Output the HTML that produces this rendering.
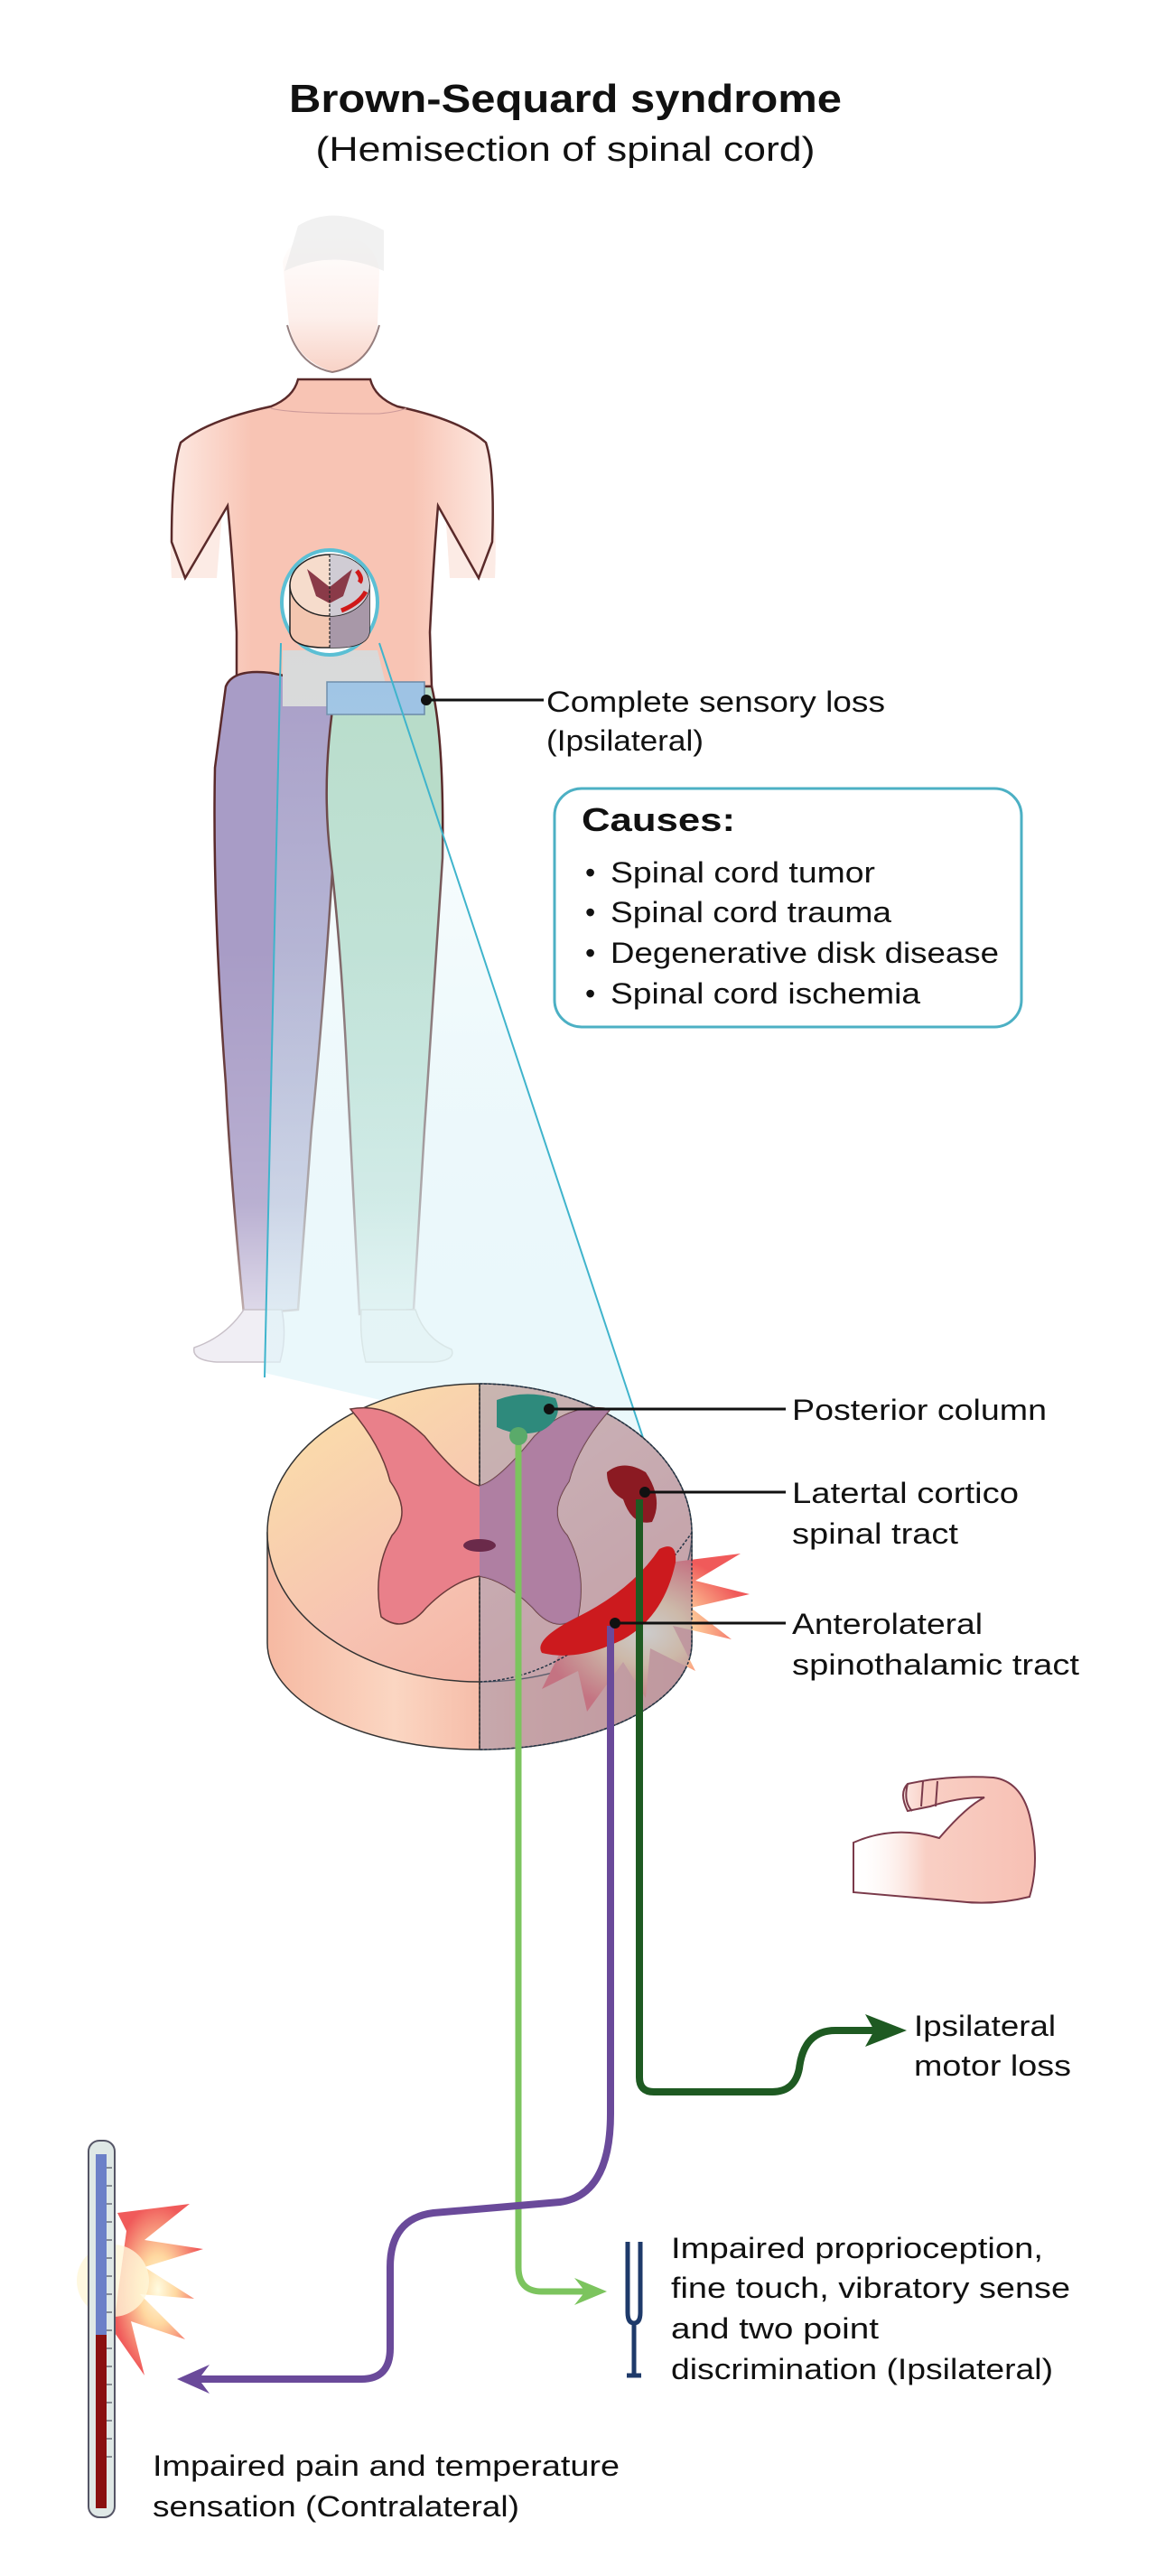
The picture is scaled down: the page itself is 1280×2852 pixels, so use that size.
<!DOCTYPE html>
<html><head><meta charset="utf-8"><style>
html,body{margin:0;padding:0;background:#fff}
svg{display:block}
text{font-family:"Liberation Sans",Arial,sans-serif;fill:#111}
</style></head><body>
<svg width="1280" height="2852" viewBox="0 0 1280 2852" xmlns="http://www.w3.org/2000/svg">
<defs>
<linearGradient id="skin" x1="0" y1="0" x2="1" y2="0">
<stop offset="0" stop-color="#fde9e2"/><stop offset=".25" stop-color="#f8c4b4"/><stop offset=".75" stop-color="#f8c4b4"/><stop offset="1" stop-color="#fde9e2"/></linearGradient>
<linearGradient id="headg" x1="0" y1="0" x2="0" y2="1">
<stop offset="0" stop-color="#fff"/><stop offset=".6" stop-color="#fdf0ec"/><stop offset="1" stop-color="#f8d2c6"/></linearGradient>
<linearGradient id="legfade" x1="0" y1="0" x2="0" y2="1">
<stop offset="0" stop-color="#fff" stop-opacity="0"/><stop offset=".6" stop-color="#fff" stop-opacity=".2"/><stop offset="1" stop-color="#fff" stop-opacity=".85"/></linearGradient>
<linearGradient id="cone" x1="0" y1="0" x2="0" y2="1">
<stop offset="0" stop-color="#d4f0f6" stop-opacity="0"/><stop offset=".5" stop-color="#d4f0f6" stop-opacity=".4"/><stop offset="1" stop-color="#e6f6fa" stop-opacity=".8"/></linearGradient>
<linearGradient id="cordtop" x1="0" y1="0" x2="1" y2="1">
<stop offset="0" stop-color="#fbe3a8"/><stop offset=".5" stop-color="#f7c3b2"/><stop offset="1" stop-color="#f2a89a"/></linearGradient>
<linearGradient id="cordside" x1="0" y1="0" x2="1" y2="0">
<stop offset="0" stop-color="#f6b9a2"/><stop offset=".3" stop-color="#fbd6c2"/><stop offset=".6" stop-color="#f3b09c"/><stop offset="1" stop-color="#e89c8e"/></linearGradient>
<radialGradient id="burst" cx=".5" cy=".5" r=".5">
<stop offset="0" stop-color="#fffbe0"/><stop offset=".4" stop-color="#ffd8a0"/><stop offset="1" stop-color="#f05a5a"/></radialGradient>
<linearGradient id="arm" x1="0" y1="0" x2="1" y2="0">
<stop offset="0" stop-color="#fff" stop-opacity="0"/><stop offset=".4" stop-color="#f9cfc4"/><stop offset="1" stop-color="#f7c0b4"/></linearGradient>
</defs>

<text x="626" y="124" font-size="44" font-weight="bold" text-anchor="middle" textLength="612" lengthAdjust="spacingAndGlyphs">Brown-Sequard syndrome</text>
<text x="626" y="178" font-size="38" text-anchor="middle" textLength="553" lengthAdjust="spacingAndGlyphs">(Hemisection of spinal cord)</text>

<path d="M200 490 Q185 560 190 640 L240 640 L250 520 Z" fill="#fbe6df" opacity=".8"/>
<path d="M535 490 Q552 560 548 640 L498 640 L490 520 Z" fill="#fbe6df" opacity=".8"/>
<path d="M330 420 Q325 440 300 450 Q230 465 200 490 Q190 520 190 600 L205 640 L252 560 Q258 620 262 700 L262 760 L478 760 L476 700 Q480 620 485 560 L530 640 L545 600 Q548 520 538 490 Q510 465 440 450 Q415 440 410 420 Z" fill="url(#skin)" stroke="#5a2a2a" stroke-width="2.5"/>
<path d="M313 290 Q320 260 365 258 Q415 260 420 300 L418 360 Q412 400 370 412 Q328 400 320 360 Z" fill="url(#headg)"/>
<path d="M318 360 Q330 405 368 412 Q408 405 420 360" fill="none" stroke="#6a4a4a" stroke-width="2" opacity=".7"/>
<path d="M330 250 Q370 225 425 255 L425 300 Q370 275 315 300 Z" fill="#e8e8e8" opacity=".6"/>
<path d="M300 452 Q320 458 420 458 Q440 456 450 452" fill="none" stroke="#c99" stroke-width="1"/>

<path d="M250 760 Q258 740 300 745 L372 760 Q380 800 372 900 Q360 1100 345 1250 Q335 1380 330 1450 L270 1455 Q255 1300 250 1200 Q235 1000 238 850 Z" fill="#a89cc6" stroke="#5a2a2a" stroke-width="2.5"/>
<path d="M372 760 L478 760 Q492 820 490 950 Q478 1120 470 1250 Q462 1380 458 1450 L398 1455 Q390 1300 385 1200 Q378 1050 366 950 Q355 860 372 760 Z" fill="#b8dcc9" stroke="#5a2a2a" stroke-width="2.5"/>
<rect x="230" y="1050" width="280" height="470" fill="url(#legfade)"/>
<path d="M270 1450 Q250 1480 215 1492 Q212 1506 240 1508 L310 1508 Q318 1480 312 1450 Z" fill="#f0eef4" stroke="#c8c0c8" stroke-width="1.5"/>
<path d="M400 1450 Q398 1480 405 1508 L480 1508 Q505 1506 500 1494 Q470 1482 460 1450 Z" fill="#eef4f0" stroke="#c8c8c0" stroke-width="1.5"/>

<path d="M313 720 L418 720 L433 782 L313 782 Z" fill="#d9d9d9"/>
<rect x="362" y="755" width="108" height="36" fill="#9ec3e4" stroke="#6a8aa8" stroke-width="1.5"/>

<path d="M311 712 L420 712 L720 1620 L293 1520 Z" fill="url(#cone)"/>
<line x1="311" y1="712" x2="293" y2="1525" stroke="#3fb4cc" stroke-width="2"/>
<line x1="420" y1="712" x2="722" y2="1622" stroke="#3fb4cc" stroke-width="2"/>

<ellipse cx="365" cy="667" rx="53" ry="58" fill="#fff" stroke="#5bbfd4" stroke-width="4"/>
<path d="M321 648 L321 700 Q323 718 365 717 Q407 718 409 700 L409 648 Z" fill="#f3c6b0" stroke="#222" stroke-width="1.5"/>
<path d="M365 648 L409 648 L409 700 Q407 718 365 717 Z" fill="#a898a8"/>
<ellipse cx="365" cy="648" rx="44" ry="34" fill="#f6dccc" stroke="#222" stroke-width="1.5"/>
<path d="M365 614 A44 34 0 0 1 365 682 Z" fill="#d0ccd4"/>
<path d="M340 630 L365 650 L390 630 L380 660 L365 668 L350 660 Z" fill="#8a3a48"/>
<path d="M395 632 Q402 640 398 645" stroke="#d01818" stroke-width="5" fill="none"/>
<path d="M378 676 Q398 668 405 655" stroke="#d01818" stroke-width="5" fill="none"/>
<line x1="365" y1="614" x2="365" y2="717" stroke="#222" stroke-width="1.2" stroke-dasharray="3 2"/>

<circle cx="472" cy="775" r="6" fill="#111"/>
<line x1="472" y1="775" x2="602" y2="775" stroke="#111" stroke-width="3"/>
<text x="605" y="788" font-size="32" textLength="375" lengthAdjust="spacingAndGlyphs">Complete sensory loss</text>
<text x="605" y="831" font-size="32" textLength="174" lengthAdjust="spacingAndGlyphs">(Ipsilateral)</text>

<rect x="614" y="873" width="517" height="264" rx="30" fill="#fff" stroke="#4cb0c4" stroke-width="3"/>
<text x="644" y="920" font-size="36" font-weight="bold" textLength="170" lengthAdjust="spacingAndGlyphs">Causes:</text>
<g font-size="32">
<text x="648" y="977">•</text><text x="676" y="977" textLength="293" lengthAdjust="spacingAndGlyphs">Spinal cord tumor</text>
<text x="648" y="1021">•</text><text x="676" y="1021" textLength="311" lengthAdjust="spacingAndGlyphs">Spinal cord trauma</text>
<text x="648" y="1066">•</text><text x="676" y="1066" textLength="430" lengthAdjust="spacingAndGlyphs">Degenerative disk disease</text>
<text x="648" y="1111">•</text><text x="676" y="1111" textLength="343" lengthAdjust="spacingAndGlyphs">Spinal cord ischemia</text>
</g>

<path d="M296 1697 L296 1819 A235 118 0 0 0 766 1819 L766 1697 Z" fill="url(#cordside)" stroke="#333" stroke-width="1.5"/>
<ellipse cx="531" cy="1697" rx="235" ry="165" fill="url(#cordtop)" stroke="#333" stroke-width="1.5"/>
<path d="M740 1730 L820 1720 L770 1750 L830 1765 L765 1780 L810 1815 L745 1800 L770 1850 L720 1825 L715 1880 L690 1840 L650 1895 L640 1850 L600 1870 L620 1830 Z" fill="url(#burst)"/>
<path d="M531 1532 A235 165 0 0 1 766 1697 L766 1819 A235 118 0 0 1 531 1937 Z" fill="#8e93b4" opacity=".45"/>
<path d="M531 1532 A235 165 0 0 1 766 1697 L766 1819 A235 118 0 0 1 531 1937 Z" fill="none" stroke="#234" stroke-width="1.5" stroke-dasharray="3 2"/>
<path d="M531 1862 Q650 1858 766 1697" fill="none" stroke="#234" stroke-width="1.5" stroke-dasharray="3 2"/>
<line x1="531" y1="1532" x2="531" y2="1937" stroke="#333" stroke-width="1.5"/>
<path d="M388 1560 Q430 1552 470 1590 Q510 1640 531 1645 Q552 1640 592 1590 Q632 1552 676 1560 Q640 1600 630 1640 Q605 1675 628 1700 Q650 1740 640 1790 Q615 1810 590 1780 Q560 1750 531 1745 Q502 1750 472 1780 Q447 1810 422 1790 Q412 1740 434 1700 Q457 1675 432 1640 Q422 1600 388 1560 Z" fill="#e9808a" stroke="#6a3a3a" stroke-width="1.5"/>
<path d="M531 1645 Q552 1640 592 1590 Q632 1552 676 1560 Q640 1600 630 1640 Q605 1675 628 1700 Q650 1740 640 1790 Q615 1810 590 1780 Q560 1750 531 1745 Z" fill="#a07ea8" opacity=".8"/>
<ellipse cx="531" cy="1711" rx="18" ry="7" fill="#6a2a4a"/>
<path d="M550 1550 Q580 1538 615 1548 Q625 1570 600 1584 Q575 1592 550 1580 Z" fill="#2e8a7c"/>
<path d="M672 1630 Q690 1615 715 1630 Q735 1660 722 1685 Q700 1690 690 1660 Q672 1650 672 1630 Z" fill="#8b1a22"/>
<path d="M600 1830 Q590 1815 640 1790 Q700 1760 730 1715 Q750 1705 748 1730 Q735 1790 690 1815 Q640 1840 600 1830 Z" fill="#cc1a1e"/>
<path d="M574 1590 L574 2510 Q574 2537 600 2537 L660 2537" fill="none" stroke="#7cc45e" stroke-width="7"/>
<path d="M636 2522 L672 2537 L636 2552 L648 2537 Z" fill="#7cc45e"/>
<circle cx="574" cy="1590" r="10" fill="#5aaa6a"/>
<path d="M676 1800 L676 2340 Q676 2430 620 2438 L480 2450 Q432 2456 432 2510 L432 2600 Q432 2634 400 2634 L215 2634" fill="none" stroke="#6a4a9a" stroke-width="8"/>
<path d="M232 2618 L196 2634 L232 2650 L220 2634 Z" fill="#6a4a9a"/>
<path d="M708 1660 L708 2300 Q708 2316 724 2316 L855 2316 Q880 2316 885 2290 Q890 2248 925 2248 L975 2248" fill="none" stroke="#1e5a22" stroke-width="8"/>
<path d="M958 2230 L1004 2248 L958 2266 L968 2248 Z" fill="#1e5a22"/>
<circle cx="608" cy="1560" r="6" fill="#111"/><line x1="608" y1="1560" x2="870" y2="1560" stroke="#111" stroke-width="3"/>
<circle cx="714" cy="1652" r="6" fill="#111"/><line x1="714" y1="1652" x2="870" y2="1652" stroke="#111" stroke-width="3"/>
<circle cx="681" cy="1797" r="6" fill="#111"/><line x1="681" y1="1797" x2="870" y2="1797" stroke="#111" stroke-width="3"/>
<g font-size="32">
<text x="877" y="1572" textLength="282" lengthAdjust="spacingAndGlyphs">Posterior column</text>
<text x="877" y="1664" textLength="251" lengthAdjust="spacingAndGlyphs">Latertal cortico</text>
<text x="877" y="1709" textLength="184" lengthAdjust="spacingAndGlyphs">spinal tract</text>
<text x="877" y="1809" textLength="211" lengthAdjust="spacingAndGlyphs">Anterolateral</text>
<text x="877" y="1854" textLength="318" lengthAdjust="spacingAndGlyphs">spinothalamic tract</text>
<text x="1012" y="2254" textLength="157" lengthAdjust="spacingAndGlyphs">Ipsilateral</text>
<text x="1012" y="2298" textLength="174" lengthAdjust="spacingAndGlyphs">motor loss</text>
<text x="743" y="2500" textLength="412" lengthAdjust="spacingAndGlyphs">Impaired proprioception,</text>
<text x="743" y="2544" textLength="442" lengthAdjust="spacingAndGlyphs">fine touch, vibratory sense</text>
<text x="743" y="2589" textLength="230" lengthAdjust="spacingAndGlyphs">and two point</text>
<text x="743" y="2634" textLength="423" lengthAdjust="spacingAndGlyphs">discrimination (Ipsilateral)</text>
<text x="169" y="2741" textLength="517" lengthAdjust="spacingAndGlyphs">Impaired pain and temperature</text>
<text x="169" y="2786" textLength="406" lengthAdjust="spacingAndGlyphs">sensation (Contralateral)</text>
</g>

<path d="M945 2040 Q990 2020 1040 2035 Q1070 2000 1090 1990 Q1060 1990 1030 2000 L1005 2005 Q995 1985 1005 1975 Q1050 1965 1100 1968 Q1130 1972 1140 2010 Q1152 2060 1140 2100 Q1100 2110 1060 2105 Q1000 2100 945 2095 Z" fill="url(#arm)" stroke="#7a3a4a" stroke-width="2"/>
<path d="M1005 1975 Q1000 1995 1010 2005 M1022 1972 L1020 2000 M1038 1972 L1036 2000" stroke="#7a3a4a" stroke-width="2" fill="none"/>

<path d="M695 2482 L695 2560 Q695 2572 702 2572 Q709 2572 709 2560 L709 2482" fill="none" stroke="#1e3a6a" stroke-width="5"/>
<line x1="702" y1="2572" x2="702" y2="2628" stroke="#1e3a6a" stroke-width="5"/>
<line x1="694" y1="2630" x2="710" y2="2630" stroke="#1e3a6a" stroke-width="5"/>

<path d="M130 2450 L210 2440 L160 2480 L225 2490 L160 2510 L215 2545 L155 2540 L205 2590 L145 2570 L160 2630 L125 2580 L140 2470 Z" fill="url(#burst)"/>
<circle cx="125" cy="2525" r="40" fill="#fff6d8" opacity=".8"/>
<rect x="98" y="2370" width="29" height="417" rx="12" fill="#dfe8e6" stroke="#556" stroke-width="2"/>
<rect x="106" y="2385" width="12" height="200" fill="#6c80c8"/>
<rect x="106" y="2585" width="12" height="192" fill="#8a1010"/>
<g stroke="#334" stroke-width="1">
<line x1="118" y1="2400" x2="124" y2="2400"/><line x1="118" y1="2420" x2="124" y2="2420"/><line x1="118" y1="2440" x2="124" y2="2440"/><line x1="118" y1="2460" x2="124" y2="2460"/><line x1="118" y1="2480" x2="124" y2="2480"/><line x1="118" y1="2500" x2="124" y2="2500"/><line x1="118" y1="2520" x2="124" y2="2520"/><line x1="118" y1="2540" x2="124" y2="2540"/><line x1="118" y1="2560" x2="124" y2="2560"/><line x1="118" y1="2580" x2="124" y2="2580"/><line x1="118" y1="2600" x2="124" y2="2600"/><line x1="118" y1="2620" x2="124" y2="2620"/><line x1="118" y1="2640" x2="124" y2="2640"/><line x1="118" y1="2660" x2="124" y2="2660"/><line x1="118" y1="2680" x2="124" y2="2680"/><line x1="118" y1="2700" x2="124" y2="2700"/><line x1="118" y1="2720" x2="124" y2="2720"/>
</g>
</svg>
</body></html>
